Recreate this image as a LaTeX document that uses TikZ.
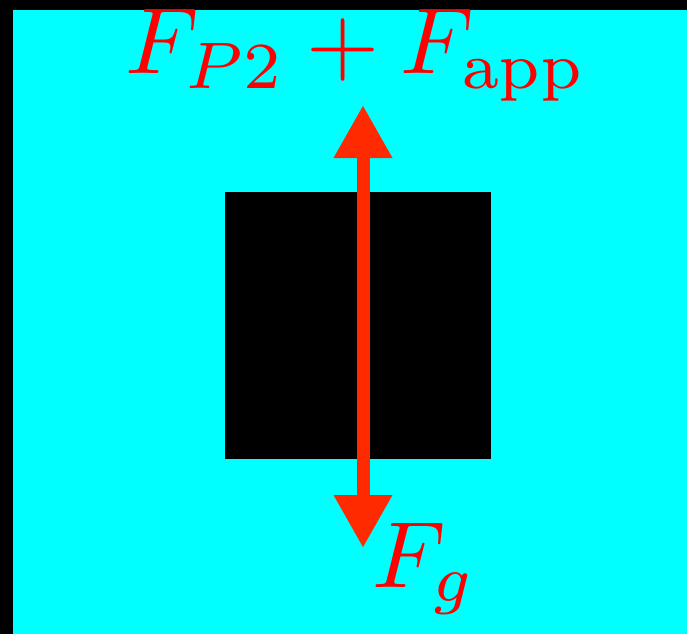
\documentclass[tikz,border=0pt]{standalone}
\usepackage{tikz}
\usetikzlibrary{arrows.meta}

\definecolor{forcered}{RGB}{255,42,0}
\definecolor{bgcyan}{RGB}{0,255,255}
\tikzset{
  force/.style={draw=forcered, line width=13pt,
    {Triangle[length=53pt,width=55pt]}-{Triangle[length=53pt,width=55pt]}},
  flabel/.style={text=red, inner sep=0pt},
}
\newcommand{\bigmath}[1]{\scalebox{9.4}{$#1$}}

\begin{document}
\begin{tikzpicture}[x=1pt, y=-1pt]
  \fill[black] (0,0) rectangle (687,634);
  \fill[bgcyan] (13,10) rectangle (687,634);
  \useasboundingbox (0,0) rectangle (687,634);
  \node[fill=black, minimum width=266pt, minimum height=267pt, inner sep=0pt] (block) at (358,325.5) {};
  \coordinate (up) at (363,105);
  \coordinate (down) at (363,548);
  \draw[force] (down) -- (up);
  \node[flabel, anchor=base] (top) at (356,74) {\bigmath{F_{P2}+F_{\mathrm{app}}}};
  \node[flabel, anchor=base west] (bottom) at (372,587) {\bigmath{F_g}};
\end{tikzpicture}
\end{document}
